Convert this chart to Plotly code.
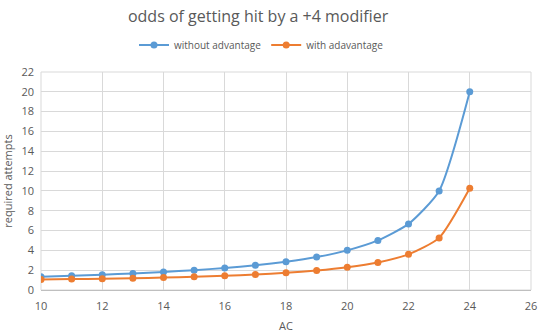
import plotly.graph_objects as go

ac = [10, 11, 12, 13, 14, 15, 16, 17, 18, 19, 20, 21, 22, 23, 24]
without_adv = [1.33, 1.43, 1.54, 1.67, 1.82, 2.0, 2.22, 2.5, 2.86, 3.33, 4.0, 5.0, 6.67, 10.0, 20.0]
with_adv = [1.07, 1.10, 1.14, 1.19, 1.25, 1.33, 1.43, 1.56, 1.73, 1.96, 2.29, 2.78, 3.60, 5.26, 10.26]
x_ticks = [10, 12, 14, 16, 18, 20, 22, 24, 26]
y_ticks = [0, 2, 4, 6, 8, 10, 12, 14, 16, 18, 20, 22]

blue = "#5B9BD5"
orange = "#ED7D31"
font = "Open Sans, Liberation Sans, sans-serif"

fig = go.Figure()
fig.add_trace(go.Scatter(x=ac, y=without_adv, name="without advantage", mode="lines+markers",
                         line=dict(color=blue, width=2, shape="spline", smoothing=0.6),
                         marker=dict(color=blue, size=7)))
fig.add_trace(go.Scatter(x=ac, y=with_adv, name="with adavantage", mode="lines+markers",
                         line=dict(color=orange, width=2, shape="spline", smoothing=0.6),
                         marker=dict(color=orange, size=7)))

fig.update_layout(
    width=540, height=336,
    margin=dict(l=41, r=9, t=72, b=46),
    paper_bgcolor="white", plot_bgcolor="white",
    font=dict(family=font, color="#595959", size=11),
    title=dict(text="odds of getting hit by a +4 modifier", x=0.478, xanchor="center",
               y=0.95, yanchor="middle", font=dict(size=16, color="#595959")),
    legend=dict(orientation="h", x=0.45, xanchor="center", y=1.124, yanchor="middle",
                font=dict(size=10, color="#595959"), itemwidth=30, tracegroupgap=0),
    showlegend=True,
)
fig.update_xaxes(range=[10, 26], tickvals=x_ticks, showgrid=True, gridcolor="#D9D9D9",
                 showline=True, linecolor="#BFBFBF", mirror=False, zeroline=False,
                 automargin=False,
                 title=dict(text="AC", font=dict(size=11, color="#595959"), standoff=10),
                 ticks="", ticklabelstandoff=6, tickfont=dict(size=11, color="#595959"))
fig.update_yaxes(range=[0, 22], tickvals=y_ticks, showgrid=True, gridcolor="#D9D9D9",
                 zeroline=False, showline=False, automargin=False,
                 title=dict(text="required attempts", font=dict(size=11, color="#595959"), standoff=8),
                 ticks="", ticklabelstandoff=6, tickfont=dict(size=11, color="#595959"))
fig.add_shape(type="rect", xref="paper", yref="paper", x0=0, x1=1, y0=0, y1=1,
              line=dict(color="#D9D9D9", width=1), layer="below")

fig.write_html("out.html")
